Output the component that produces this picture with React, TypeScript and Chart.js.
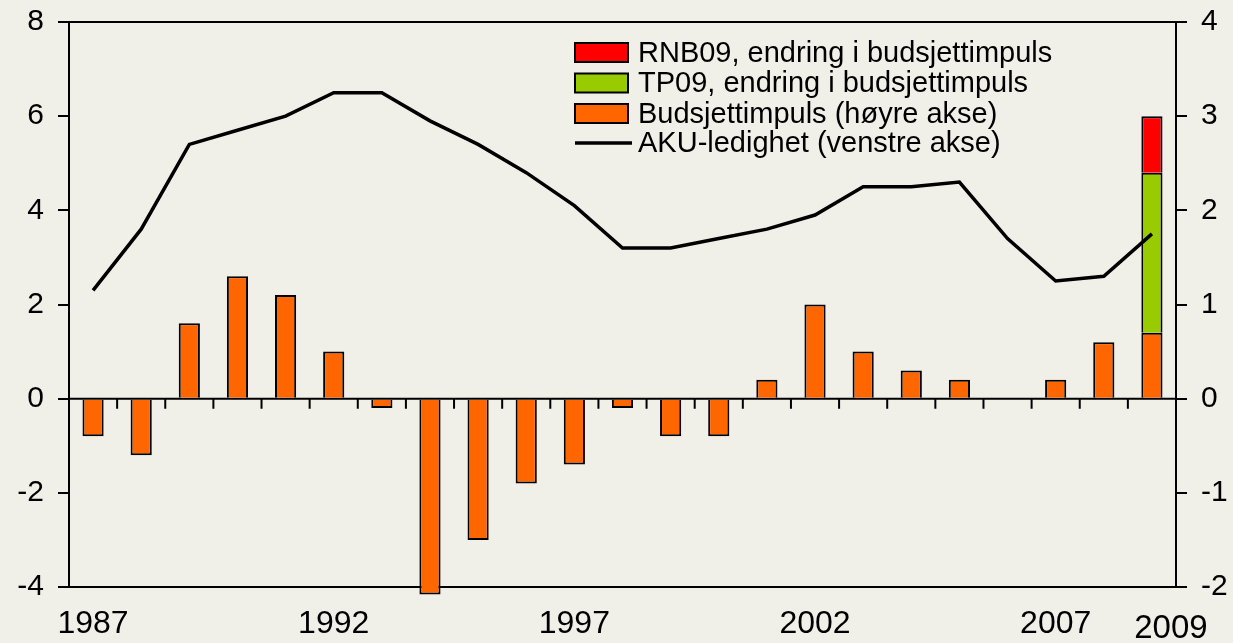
import React, { useEffect, useRef } from "react";
import { Chart, registerables } from "chart.js";

Chart.register(...registerables);

const years = ["1987","1988","1989","1990","1991","1992","1993","1994","1995","1996","1997","1998","1999","2000","2001","2002","2003","2004","2005","2006","2007","2008","2009"];
const budsjettimpuls = [-0.4,-0.6,0.8,1.3,1.1,0.5,-0.1,-2.08,-1.5,-0.9,-0.7,-0.1,-0.4,-0.4,0.2,1.0,0.5,0.3,0.2,0,0.2,0.6,0.7];
const tp09 = [null,null,null,null,null,null,null,null,null,null,null,null,null,null,null,null,null,null,null,null,null,null,1.7];
const rnb09 = [null,null,null,null,null,null,null,null,null,null,null,null,null,null,null,null,null,null,null,null,null,null,0.6];
const aku = [2.3,3.6,5.4,5.7,6.0,6.5,6.5,5.9,5.4,4.8,4.1,3.2,3.2,3.4,3.6,3.9,4.5,4.5,4.6,3.4,2.5,2.6,3.5];
const shownYearLabels = ["1987","1992","1997","2002","2007"];
const lastLabel = "2009";

const FONT = "'Liberation Sans', Arial, sans-serif";
const BG = "#f0efe8";

const framePlugin = {
  id: "frame",
  beforeDatasetsDraw(chart: any) {
    const { ctx, chartArea } = chart;
    const x = chart.scales.x;
    const y2 = chart.scales.y2;
    const y0 = y2.getPixelForValue(0);
    ctx.save();
    ctx.strokeStyle = "#000";
    ctx.lineWidth = 2;
    ctx.beginPath();
    ctx.moveTo(chartArea.left, chartArea.top);
    ctx.lineTo(chartArea.right, chartArea.top);
    ctx.moveTo(chartArea.left, y0);
    ctx.lineTo(chartArea.right, y0);
    for (let i = 0; i < years.length - 1; i++) {
      const px = (x.getPixelForValue(i) + x.getPixelForValue(i + 1)) / 2;
      ctx.moveTo(px, y0);
      ctx.lineTo(px, y0 + 10);
    }
    ctx.stroke();
    ctx.restore();
  },
  afterDraw(chart: any) {
    const { ctx } = chart;
    const x = chart.scales.x;
    ctx.save();
    ctx.fillStyle = "#000";
    ctx.font = `33px ${FONT}`;
    ctx.textAlign = "center";
    ctx.textBaseline = "middle";
    ctx.fillText(lastLabel, x.getPixelForValue(years.length - 1) + 19, 629);

    // legend
    const ds = chart.data.datasets;
    const order = [3, 2, 1, 0];
    const rows = [52.5, 83, 113.5, 143];
    ctx.font = `29px ${FONT}`;
    ctx.textAlign = "left";
    order.forEach((di, r) => {
      const d = ds[di];
      const cy = rows[r];
      if (d.type === "line") {
        ctx.strokeStyle = d.borderColor;
        ctx.lineWidth = 3.5;
        ctx.beginPath();
        ctx.moveTo(575, cy);
        ctx.lineTo(632, cy);
        ctx.stroke();
      } else {
        ctx.fillStyle = d.backgroundColor;
        ctx.fillRect(575, cy - 9.5, 53, 19);
        ctx.strokeStyle = "#000";
        ctx.lineWidth = 2;
        ctx.strokeRect(575, cy - 9.5, 53, 19);
      }
      ctx.fillStyle = "#000";
      ctx.fillText(d.label, 638, cy + 1);
    });
    ctx.restore();
  },
};

const fitY = (w: number) => (s: any) => {
  s.width = w;
  s.paddingTop = 0;
  s.paddingBottom = 0;
};

export default function App() {
  const ref = useRef<HTMLCanvasElement>(null);
  useEffect(() => {
    document.body.style.margin = "0";
    document.body.style.background = BG;
    const chart = new Chart(ref.current as HTMLCanvasElement, {
      type: "bar",
      data: {
        labels: years,
        datasets: [
          {
            type: "line",
            label: "AKU-ledighet (venstre akse)",
            data: aku,
            yAxisID: "y",
            borderColor: "#000000",
            backgroundColor: "#000000",
            borderWidth: 3.5,
            pointRadius: 0,
            tension: 0,
            order: 0,
          } as any,
          {
            type: "bar",
            label: "Budsjettimpuls (høyre akse)",
            data: budsjettimpuls,
            yAxisID: "y2",
            backgroundColor: "#ff6600",
            borderColor: "#000000",
            borderWidth: 2,
            barPercentage: 0.44,
            categoryPercentage: 1,
            order: 1,
            clip: false,
          },
          {
            type: "bar",
            label: "TP09, endring i budsjettimpuls",
            data: tp09,
            yAxisID: "y2",
            backgroundColor: "#99cc00",
            borderColor: "#000000",
            borderWidth: 2,
            barPercentage: 0.44,
            categoryPercentage: 1,
            order: 1,
          },
          {
            type: "bar",
            label: "RNB09, endring i budsjettimpuls",
            data: rnb09,
            yAxisID: "y2",
            backgroundColor: "#ff0000",
            borderColor: "#000000",
            borderWidth: 2,
            barPercentage: 0.44,
            categoryPercentage: 1,
            order: 1,
          },
        ],
      },
      options: {
        responsive: false,
        animation: false,
        layout: { padding: { top: 22, left: 0, right: 0, bottom: 0 } },
        plugins: { legend: { display: false }, tooltip: { enabled: false } },
        scales: {
          x: {
            stacked: true,
            offset: true,
            grid: { display: false, drawTicks: false },
            border: { display: true, color: "#000", width: 2 },
            ticks: {
              autoSkip: false,
              maxRotation: 0,
              padding: 18,
              color: "#000",
              font: { family: FONT, size: 32 },
              callback: function (this: any, v: any) {
                const l = this.getLabelForValue(v);
                return shownYearLabels.includes(l) ? l : "";
              },
            },
            afterFit: (s: any) => { s.height = 56; },
          },
          y: {
            position: "left",
            min: -4,
            max: 8,
            grid: { drawOnChartArea: false, drawTicks: true, tickLength: 11, color: "#000", lineWidth: 2 },
            border: { display: true, color: "#000", width: 2 },
            ticks: { stepSize: 2, padding: 14, color: "#000", font: { family: FONT, size: 30 } },
            afterFit: fitY(69),
          },
          y2: {
            position: "right",
            stacked: true,
            min: -2,
            max: 4,
            grid: { drawOnChartArea: false, drawTicks: true, tickLength: 11, color: "#000", lineWidth: 2 },
            border: { display: true, color: "#000", width: 2 },
            ticks: { stepSize: 1, padding: 14, color: "#000", font: { family: FONT, size: 30 } },
            afterFit: fitY(57),
          },
        },
      },
      plugins: [framePlugin],
    });
    return () => chart.destroy();
  }, []);
  return (
    <div style={{ position: "fixed", left: 0, top: 0, width: 1233, height: 643, background: BG }}>
      <canvas ref={ref} width={1233} height={643} style={{ display: "block" }} />
    </div>
  );
}
